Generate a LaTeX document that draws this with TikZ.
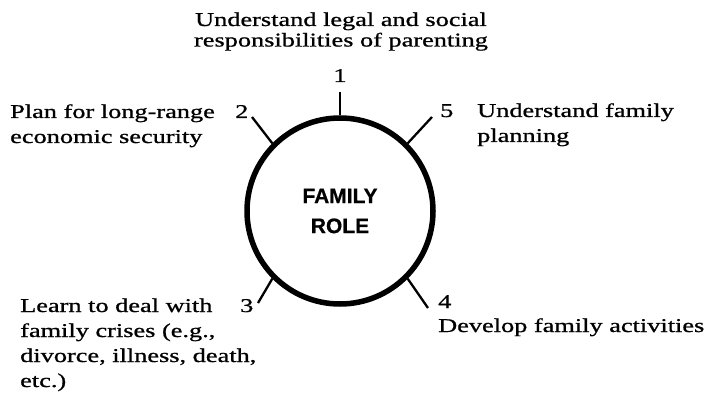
\documentclass[tikz,border=0pt]{standalone}
\usepackage{fontspec}
\setmainfont{Liberation Serif}[FakeStretch=1.35, FakeBold=0.9]
\newfontfamily\rolefont{Liberation Sans}[FakeBold=0.6]
\tikzset{
  txt/.style={inner sep=0pt, font=\fontsize{19.5}{25}\selectfont},
  lbl/.style={txt, anchor=base west},
  num/.style={txt, anchor=base west},
  tick/.style={line width=2.3pt},
  hub/.style={circle, draw, line width=5.5pt, minimum size=186pt, inner sep=0pt,
    align=center, font=\rolefont\bfseries\fontsize{21}{30}\selectfont},
}
\begin{document}
\begin{tikzpicture}[x=1pt,y=-1pt]
\useasboundingbox (0,0) rectangle (714,398);

% central role
\node[hub] (c) at (340,211) {FAMILY\\ROLE};

% item 1 (top)
\node[txt, anchor=base] (t1) at (341,26)
  {\fontsize{19.5}{20.5}\selectfont\begin{tabular}[t]{@{}c@{}}Understand legal and social\\responsibilities of parenting\end{tabular}};
\node[txt, anchor=base] (n1) at (340,82) {1};
\coordinate (e1) at (340,92);
\draw[tick] (e1) -- (c.90);

% item 2 (upper left)
\node[lbl] (t2) at (10,118)
  {\begin{tabular}[t]{@{}l@{}}Plan for long-range\\economic security\end{tabular}};
\node[num] (n2) at (235,118) {2};
\coordinate (e2) at (252,117);
\draw[tick] (e2) -- (c.135);

% item 5 (upper right)
\node[num] (n5) at (440,117) {5};
\node[lbl] (t5) at (477,117)
  {\begin{tabular}[t]{@{}l@{}}Understand family\\planning\end{tabular}};
\coordinate (e5) at (432,117);
\draw[tick] (e5) -- (c.45);

% item 3 (lower left)
\node[lbl] (t3) at (20,312)
  {\begin{tabular}[t]{@{}l@{}}Learn to deal with\\family crises (e.g.,\\divorce, illness, death,\\etc.)\end{tabular}};
\node[num] (n3) at (240,312) {3};
\coordinate (e3) at (258,303);
\draw[tick] (e3) -- (c.225);

% item 4 (lower right)
\node[num] (n4) at (438,308) {4};
\node[lbl] (t4) at (438,332) {Develop family activities};
\coordinate (e4) at (428,308);
\draw[tick] (e4) -- (c.315);
\end{tikzpicture}
\end{document}
